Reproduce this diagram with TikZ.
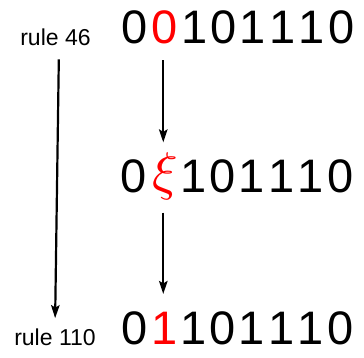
\documentclass[tikz,border=0pt]{standalone}
\usepackage{fontspec}
\setmainfont{Liberation Sans}
\usetikzlibrary{arrows.meta}
% one digit cell of the bit strings (fixed pitch)
\newcommand\dg[1]{\makebox[29.4pt][l]{#1}}
\newcommand\tail{\dg{1}\dg{0}\dg{1}\dg{1}\dg{1}\dg{0}}
\begin{document}
\begin{tikzpicture}[x=1pt,y=-1pt,
  bit/.style={font=\fontsize{47}{56}\selectfont, inner sep=0pt, anchor=base west},
  flip/.style={bit, text=red},
  rulelabel/.style={font=\fontsize{23}{27}\selectfont, inner sep=0pt, anchor=base},
  arr/.style={-{Stealth[length=13pt,width=8.5pt,inset=2.5pt]}, line width=2.2pt}]
\useasboundingbox (0,0) rectangle (364,358);
% rule labels
\node[rulelabel] (ra) at (55.5,46) {rule 46};
\node[rulelabel] (rb) at (55,345) {rule 110};
% top row
\node[bit]  (a0) at (121,43.5) {0};
\node[flip] (a1) at (151,43.5) {0};
\node[bit]  (a2) at (181,43.5) {\tail};
% middle row
\node[bit]  (m0) at (120,193) {0};
\node[inner sep=0pt, text=red, scale=5.3] (m1) at (165,176) {$\xi$};
\node[bit]  (m2) at (180,193) {\tail};
% bottom row
\node[bit]  (b0) at (121,344.5) {0};
\node[flip] (b1) at (151.5,344.5) {1};
\node[bit]  (b2) at (180,344.5) {\tail};
% connectors
\coordinate (col) at ([xshift=-1pt]a1.south);
\draw[arr, shorten <=16pt, shorten >=9pt] (col) -- (col |- m1.north);
\draw[arr, shorten <=12pt, shorten >=18pt] (col |- m1.south) -- (col |- b1.north);
\draw[arr, shorten <=13pt, shorten >=10pt] ([xshift=3.5pt]ra.south) -- (rb.north);
\end{tikzpicture}
\end{document}
